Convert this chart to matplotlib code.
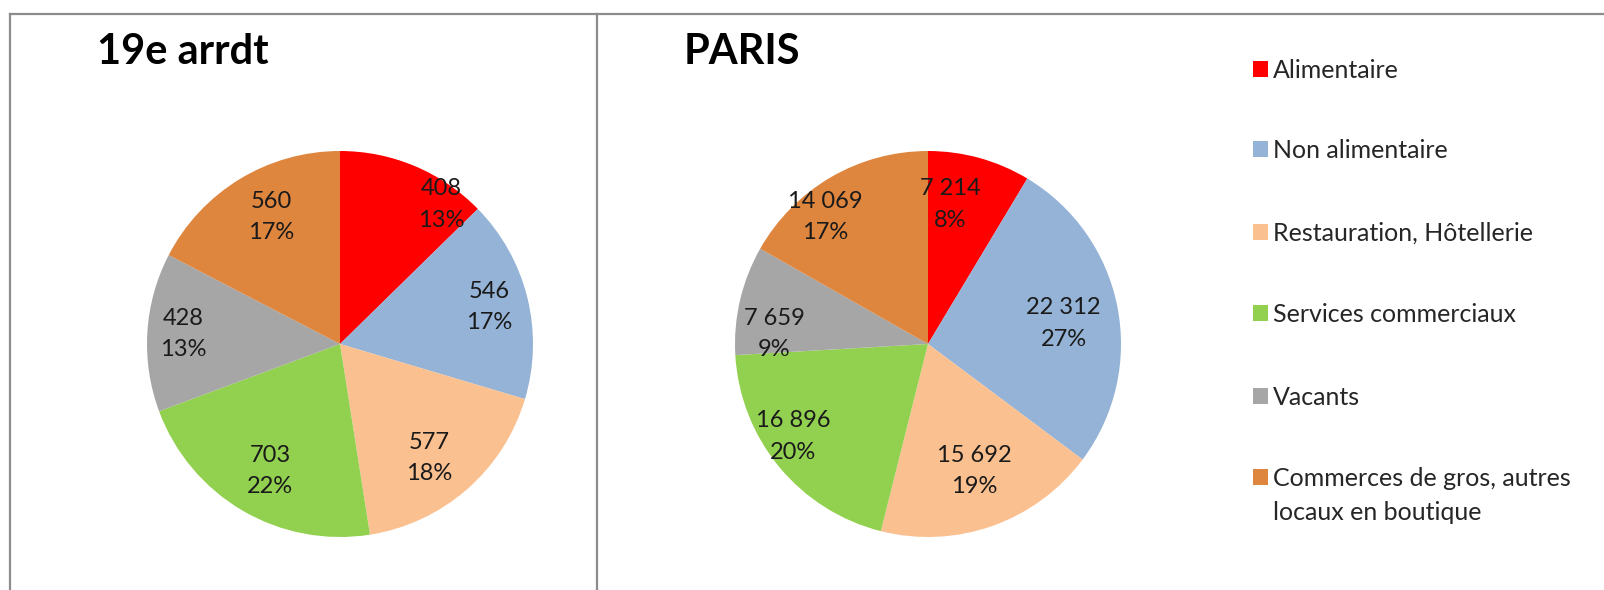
import matplotlib
matplotlib.use("Agg")
import matplotlib.pyplot as plt
from matplotlib.lines import Line2D
from matplotlib.patches import Rectangle

plt.rcParams["font.family"] = ["Lato", "DejaVu Sans"]

categories = ["Alimentaire", "Non alimentaire", "Restauration, Hôtellerie",
              "Services commerciaux", "Vacants",
              "Commerces de gros, autres\nlocaux en boutique"]
colors = ["#FF0000", "#95B3D7", "#FAC090", "#92D050", "#A6A6A6", "#DE853E"]

vals_19 = [408, 546, 577, 703, 428, 560]
pct_19 = [13, 17, 18, 22, 13, 17]
vals_paris = [7214, 22312, 15692, 16896, 7659, 14069]
pct_paris = [8, 27, 19, 20, 9, 17]

# label placement (pie radius = 1)
pos_19 = [(0.527, 0.723), (0.771, 0.191), (0.463, -0.590),
          (-0.362, -0.660), (-0.814, 0.053), (-0.356, 0.660)]
pos_paris = [(0.117, 0.723), (0.702, 0.106), (0.239, -0.660),
             (-0.697, -0.479), (-0.798, 0.053), (-0.532, 0.660)]

W, H = 1604, 590
fig = plt.figure(figsize=(W / 100, H / 100), dpi=100)
fig.patch.set_facecolor("white")


def fmt(v):
    return f"{v:,}".replace(",", " ")


def draw_pie(cx, cy, r, vals, pcts, pos):
    ax = fig.add_axes([(cx - r) / W, (H - cy - r) / H, 2 * r / W, 2 * r / H])
    ax.pie(vals, colors=colors, startangle=90, counterclock=False, radius=1,
           wedgeprops=dict(linewidth=0))
    ax.set_xlim(-1, 1)
    ax.set_ylim(-1, 1)
    ax.axis("off")
    for v, p, (x, y) in zip(vals, pcts, pos):
        ax.text(x, y, f"{fmt(v)}\n{p}%", ha="center", va="center",
                fontsize=17, color="#1a1a1a", linespacing=1.6)


draw_pie(340, 344, 193, vals_19, pct_19, pos_19)
draw_pie(928, 344, 193, vals_paris, pct_paris, pos_paris)

# frame
lc = "#8c8c8c"
fig.add_artist(Line2D([10 / W, 1], [1 - 14 / H, 1 - 14 / H], color=lc, lw=1.6))
fig.add_artist(Line2D([10 / W, 10 / W], [0, 1 - 14 / H], color=lc, lw=1.6))
fig.add_artist(Line2D([597 / W, 597 / W], [0, 1 - 14 / H], color=lc, lw=1.6))

# titles
fig.text(97 / W, 1 - 64 / H, "19e arrdt", fontsize=30, fontweight="bold",
         ha="left", va="baseline", color="black")
fig.text(684 / W, 1 - 64 / H, "PARIS", fontsize=30, fontweight="bold",
         ha="left", va="baseline", color="black")

# legend
rows = [69, 149, 232, 313, 396, 477]
for lab, c, y in zip(categories, colors, rows):
    fig.add_artist(Rectangle((1253 / W, 1 - (y + 8) / H), 15 / W, 16 / H,
                             facecolor=c, edgecolor="none",
                             transform=fig.transFigure))
    for k, line in enumerate(lab.split("\n")):
        fig.text(1273 / W, 1 - (y + 9 + 34 * k) / H, line, fontsize=18,
                 color="#262626", ha="left", va="baseline")

fig.savefig("out.png", dpi=100)
